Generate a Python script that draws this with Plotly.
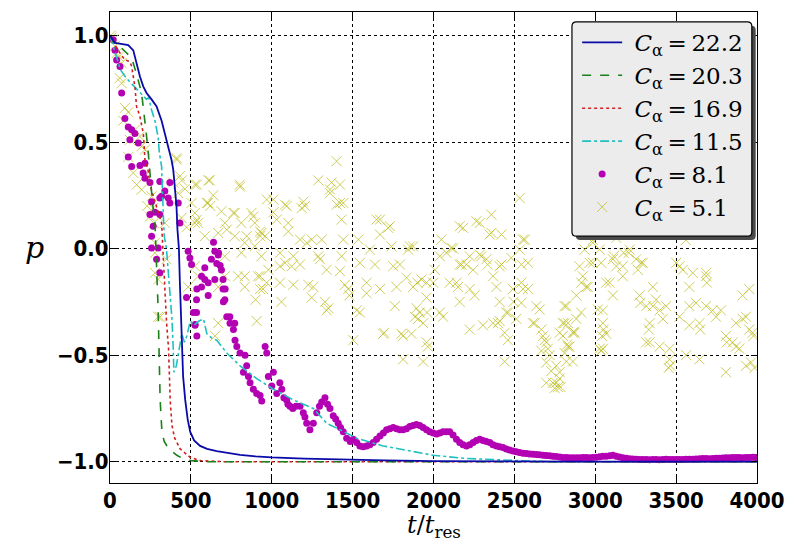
import plotly.graph_objects as go

# ---------------- data ----------------
t_222 = [0, 15, 30, 50, 80, 113, 144, 164, 185, 206, 226, 257, 288, 319, 339, 360, 380, 391, 401, 411, 417, 426, 432, 438,
         444, 452, 465, 480, 496, 520, 557, 600, 660, 730, 804, 900, 1000, 1200, 1400, 1700, 2000, 2500, 3000, 4000]
p_222 = [1.0, 0.98, 0.965, 0.963, 0.96, 0.955, 0.93, 0.87, 0.807, 0.76, 0.73, 0.70, 0.667, 0.60, 0.54, 0.48, 0.417, 0.37,
         0.30, 0.20, 0.09, 0.0, -0.16, -0.32, -0.47, -0.60, -0.71, -0.80, -0.86, -0.90, -0.926, -0.94, -0.95, -0.96, -0.968,
         -0.975, -0.98, -0.986, -0.99, -0.994, -0.997, -0.999, -1.0, -1.0]

t_203 = [0, 20, 40, 72, 100, 134, 160, 185, 200, 216, 230, 240, 250, 262, 278, 285, 292, 297, 303, 310, 321, 335, 352, 380,
         413, 450, 500, 600, 1000, 4000]
p_203 = [1.0, 0.97, 0.955, 0.94, 0.92, 0.893, 0.83, 0.76, 0.70, 0.60, 0.50, 0.42, 0.33, 0.22, 0.12, 0.0, -0.13, -0.27, -0.47,
         -0.71, -0.86, -0.905, -0.926, -0.95, -0.97, -0.985, -0.995, -1.0, -1.0, -1.0]

t_169 = [0, 20, 50, 92, 123, 134, 154, 164, 185, 206, 216, 235, 247, 270, 295, 319, 329, 339, 350, 362, 372, 383, 400, 434,
         496, 560, 700, 1000, 4000]
p_169 = [1.0, 0.97, 0.93, 0.885, 0.877, 0.854, 0.76, 0.667, 0.62, 0.54, 0.417, 0.37, 0.30, 0.24, 0.18, 0.12, -0.036, -0.19,
         -0.35, -0.47, -0.71, -0.83, -0.89, -0.94, -0.98, -0.995, -1.0, -1.0, -1.0]

t_115 = [0, 20, 64, 100, 150, 200, 226, 240, 257, 278, 298, 305, 319, 325, 329, 335, 349, 360, 370, 383, 390, 395, 410, 430,
         444, 460, 475, 496, 520, 550, 578, 599, 630, 660, 722, 804, 907, 1010, 1133, 1257, 1340, 1422, 1524, 1689, 1895,
         1998, 2200, 2500, 2700, 4000]
p_115 = [1.0, 0.95, 0.84, 0.80, 0.76, 0.72, 0.70, 0.71, 0.65, 0.60, 0.52, 0.45, 0.385, 0.25, 0.15, 0.06, 0.0, -0.1, -0.22,
         -0.33, -0.45, -0.58, -0.55, -0.45, -0.40, -0.44, -0.41, -0.34, -0.36, -0.34, -0.33, -0.40, -0.42, -0.43, -0.49,
         -0.55, -0.61, -0.66, -0.71, -0.75, -0.82, -0.85, -0.89, -0.926, -0.957, -0.97, -0.985, -0.995, -1.0, -1.0]

# C_alpha = 8.1 : early scattered points (10 per row)
t_81a = [20, 31, 41, 62, 72, 92, 113, 134, 154, 123,
         175, 113, 134, 185, 216, 205, 216, 247, 308, 339,
         370, 319, 308, 360, 370, 422, 257, 247, 278, 308,
         432, 267, 257, 257, 298, 483, 648, 669, 627, 494,
         288, 504, 586, 689, 566, 586, 607, 648, 699, 308,
         566, 607, 699, 710, 473, 535, 535, 525, 741, 771,
         537, 516, 526, 537, 712, 701, 640, 671, 681, 660]
p_81a = [0.98, 0.93, 0.885, 0.854, 0.73, 0.61, 0.57, 0.557, 0.54, 0.51,
         0.495, 0.43, 0.385, 0.39, 0.40, 0.355, 0.33, 0.31, 0.315, 0.27,
         0.31, 0.245, 0.237, 0.237, 0.214, 0.214, 0.22, 0.16, 0.17, 0.16,
         0.12, 0.105, 0.058, 0.003, 0.003, -0.013, -0.013, -0.03, -0.05, -0.044,
         -0.05, -0.075, -0.09, -0.1, -0.13, -0.145, -0.16, -0.145, -0.145, -0.114,
         -0.18, -0.22, -0.19, -0.24, -0.23, -0.24, -0.30, -0.356, -0.32, -0.35,
         -0.19, -0.30, -0.36, -0.41, -0.19, -0.25, 0.03, -0.02, -0.08, -0.07]

# C_alpha = 8.1 : dense band (10 per row)
t_81b = [722, 742, 763, 773, 784, 804, 835, 845, 825, 856,
         866, 886, 907, 928, 938, 959, 969, 979, 1000, 1010,
         1031, 1050, 1062, 1075, 1092, 1113, 1130, 1150, 1175, 1195,
         1216, 1236, 1257, 1278, 1295, 1309, 1329, 1345, 1360, 1380,
         1395, 1411, 1425, 1442, 1463, 1485, 1504, 1525, 1545, 1565,
         1586, 1606, 1627, 1648, 1669, 1690, 1710, 1730, 1751, 1772,
         1792, 1812, 1833, 1853, 1874, 1894, 1915, 1936, 1957, 1977,
         1998, 2019, 2039, 2059, 2080, 2100, 2121, 2142, 2162, 2183,
         2204, 2224, 2245, 2265, 2286, 2306, 2327, 2348, 2368, 2389,
         2409, 2430, 2450, 2470, 2491, 2512, 2532, 2553, 2574, 2595,
         2615, 2636, 2656, 2677, 2697, 2718, 2738, 2759, 2780, 2800,
         2821, 2841, 2862, 2883, 2903, 2924, 2944, 2965, 2985, 3006,
         3027, 3047, 3068, 3089, 3109, 3130, 3150, 3171, 3191, 3212,
         3232, 3253, 3274, 3294, 3315, 3335, 3356, 3376, 3397, 3418,
         3438, 3459, 3479, 3500, 3520, 3541, 3561, 3582, 3603, 3623,
         3644, 3664, 3685, 3705, 3726, 3747, 3767, 3788, 3808, 3829,
         3849, 3870, 3890, 3911, 3932, 3952, 3973, 3993, 1100, 1205]
p_81b = [-0.32, -0.35, -0.38, -0.43, -0.46, -0.49, -0.50, -0.55, -0.58, -0.60,
         -0.63, -0.66, -0.68, -0.69, -0.715, -0.46, -0.49, -0.60, -0.645, -0.58,
         -0.68, -0.63, -0.66, -0.70, -0.71, -0.74, -0.75, -0.74, -0.74, -0.77,
         -0.82, -0.85, -0.82, -0.77, -0.74, -0.72, -0.70, -0.73, -0.75, -0.785,
         -0.80, -0.82, -0.84, -0.86, -0.89, -0.905, -0.895, -0.91, -0.926, -0.93,
         -0.926, -0.92, -0.91, -0.895, -0.88, -0.865, -0.85, -0.845, -0.84, -0.845,
         -0.85, -0.85, -0.845, -0.835, -0.83, -0.825, -0.83, -0.84, -0.85, -0.86,
         -0.865, -0.87, -0.865, -0.86, -0.86, -0.86, -0.875, -0.895, -0.91, -0.92,
         -0.926, -0.92, -0.91, -0.90, -0.895, -0.90, -0.905, -0.91, -0.92, -0.926,
         -0.93, -0.934, -0.94, -0.945, -0.95, -0.953, -0.957, -0.96, -0.962, -0.964,
         -0.965, -0.966, -0.967, -0.97, -0.971, -0.972, -0.975, -0.976, -0.978, -0.98,
         -0.98, -0.981, -0.982, -0.982, -0.981, -0.98, -0.98, -0.982, -0.98, -0.979,
         -0.977, -0.975, -0.974, -0.972, -0.97, -0.974, -0.978, -0.982, -0.984, -0.986,
         -0.987, -0.988, -0.99, -0.99, -0.99, -0.991, -0.99, -0.99, -0.991, -0.99,
         -0.989, -0.99, -0.99, -0.99, -0.99, -0.99, -0.989, -0.988, -0.988, -0.987,
         -0.986, -0.985, -0.985, -0.986, -0.985, -0.984, -0.984, -0.983, -0.982, -0.982,
         -0.98, -0.98, -0.98, -0.981, -0.98, -0.98, -0.979, -0.98, -0.73, -0.79]

# C_alpha = 5.1 : scattered crosses, by stretch of time (10 per row)
t_51a = [5, 10, 20, 30, 41, 55, 72, 72, 60, 92,
         113, 82, 154, 123, 185, 195, 216, 113, 144, 216,
         195, 257, 165, 230, 267, 247, 339, 271, 278, 349,
         278, 298, 298, 310, 278, 411, 413, 432, 444, 391,
         463, 422, 442, 473, 483]
p_51a = [1.0, 0.99, 0.98, 0.95, 0.917, 0.9, 0.87, 0.776, 0.8, 0.66,
         0.64, 0.60, 0.557, 0.51, 0.526, 0.48, 0.464, 0.43, 0.355, 0.34,
         0.276, 0.245, 0.30, 0.2, 0.19, 0.15, 0.12, 0.12, 0.027, -0.05,
         -0.114, -0.145, -0.32, -0.32, -0.02, 0.425, 0.417, 0.34, 0.32, 0.31,
         0.28, 0.26, 0.144, 0.10, -0.18]

t_51b = [504, 525, 525, 525, 537, 537, 545, 599, 607, 609,
         617, 620, 638, 689, 710, 722, 763, 771, 802, 804,
         812, 874, 886, 895, 936, 969, 586, 669, 771, 833,
         845, 895, 928, 812, 710, 936, 525, 545, 710, 792,
         833, 915, 833, 946, 669, 669, 650, 907, 900, 928,
         928, 928, 959, 979, 969]
p_51b = [0.214, 0.30, 0.167, 0.12, 0.30, 0.135, 0.12, 0.214, 0.214, 0.32,
         0.32, 0.20, 0.25, 0.175, 0.12, 0.089, 0.167, 0.167, 0.30, 0.29,
         0.12, 0.167, 0.15, 0.12, 0.073, 0.23, 0.058, 0.073, 0.058, 0.027,
         0.058, 0.011, 0.058, -0.02, -0.036, -0.036, -0.083, -0.13, -0.13, -0.13,
         -0.13, -0.13, -0.18, -0.19, -0.18, -0.35, -0.41, -0.34, -0.24, -0.13,
         -0.19, 0.08, 0.058, -0.1, -0.16]

t_51c = [1010, 1010, 1031, 1082, 1092, 1102, 1102, 1185, 1195, 1205,
         1288, 1360, 1370, 1360, 1401, 1422, 1401, 1442, 1422, 1432,
         1175, 1247, 1309, 1216, 1442, 1051, 1133, 1288, 1432, 1082,
         1051, 1123, 1175, 1298, 1422, 1339, 1051, 1133, 1226, 1257,
         1452, 1473, 1480, 1060, 1247, 1329, 1339, 1350]
p_51c = [0.23, 0.17, 0.136, 0.206, 0.2, 0.12, 0.08, 0.19, 0.22, 0.2,
         0.32, 0.277, 0.31, 0.26, 0.41, 0.30, 0.206, 0.214, 0.214, 0.136,
         0.042, 0.042, 0.042, 0.027, 0.042, -0.02, -0.036, -0.036, -0.036, -0.067,
         -0.083, -0.083, -0.075, -0.05, -0.106, -0.1, -0.16, -0.17, -0.17, -0.18,
         -0.17, -0.19, -0.22, -0.25, -0.23, -0.25, -0.29, -0.28]

t_51d = [1535, 1648, 1669, 1720, 1730, 1669, 1874, 1854, 1607, 1740,
         1843, 1545, 1638, 1751, 1792, 1586, 1669, 1771, 1833, 1874,
         1900, 1957, 1957, 1586, 1525, 1545, 1761, 1885, 1895, 1936,
         1689, 1802, 1864, 1957, 1504, 1695, 1812, 1812, 1936, 1905,
         1915, 1926, 1960, 1965]
p_51d = [0.042, 0.136, 0.136, 0.097, 0.105, 0.066, 0.01, 0.01, -0.005, 0.01,
         -0.005, -0.067, -0.075, -0.083, -0.075, -0.16, -0.19, -0.18, -0.137, -0.18,
         -0.16, -0.16, -0.23, -0.21, -0.29, -0.30, -0.27, -0.32, -0.28, -0.35,
         -0.40, -0.40, -0.40, -0.44, -0.43, -0.395, -0.41, -0.52, -0.53, -0.33,
         -0.30, -0.145, -0.30, -0.46]

t_51e = [2049, 2111, 2121, 2039, 2080, 2162, 2173, 2203, 2224, 2296,
         2286, 2327, 2335, 2245, 2368, 2409, 2420, 2481, 2008, 1998,
         2100, 2142, 2152, 2224, 2255, 2162, 2389, 2491, 2409, 2461,
         2495, 2059, 2039, 2224, 2306, 2368, 2399, 2409, 2450, 2460,
         2440, 2440, 2183, 2162, 2265, 2286, 2358, 2358, 2347, 2420]
p_51e = [0.042, 0.003, 0.0, -0.036, -0.02, -0.075, -0.075, -0.075, -0.036, -0.036,
         -0.028, -0.05, -0.075, -0.1, -0.13, -0.083, -0.075, -0.044, -0.1, -0.16,
         -0.16, -0.16, -0.18, -0.19, -0.22, -0.25, -0.18, -0.19, -0.25, -0.30,
         -0.25, -0.32, -0.30, -0.38, -0.36, -0.35, -0.35, -0.34, -0.30, -0.43,
         -0.395, -0.53, 0.097, 0.105, 0.128, 0.12, 0.159, 0.074, 0.066, 0.066]

t_51f = [2533, 2553, 2564, 2533, 2543, 2584, 2543, 2553, 2584, 2543,
         2512, 2636, 2656, 2615, 2625, 2667, 2677, 2697, 2687, 2718,
         2707, 2667, 2697, 2728, 2759, 2738, 2759, 2697, 2749, 2780,
         2785, 2769, 2780, 2780, 2810, 2841, 2831, 2826, 2800, 2800,
         2810, 2862, 2867, 2872, 2821, 2862, 2810, 2821, 2831, 2883,
         2913, 2883, 2913, 2903, 2923, 2954, 2944, 2965, 2985, 2934,
         2985, 2985]
p_51f = [0.237, 0.042, 0.042, -0.005, -0.075, -0.067, -0.16, -0.19, -0.19, -0.255,
         -0.33, -0.27, -0.286, -0.35, -0.35, -0.38, -0.41, -0.44, -0.43, -0.50,
         -0.47, -0.48, -0.535, -0.575, -0.55, -0.63, -0.63, -0.63, -0.655, -0.61,
         -0.65, -0.65, -0.58, -0.395, -0.49, -0.46, -0.46, -0.45, -0.41, -0.35,
         -0.35, -0.395, -0.39, -0.395, -0.53, -0.53, -0.27, -0.27, -0.35, -0.33,
         -0.30, -0.22, -0.16, -0.083, -0.13, -0.18, -0.18, -0.067, -0.067, -0.005,
         0.027, 0.04]

t_51g = [3027, 3037, 3068, 3016, 3047, 3047, 3052, 3068, 3042, 3037,
         3027, 3047, 3109, 3114, 3130, 3170, 3175, 3212, 3207, 3253,
         3263, 3284, 3294, 3170, 3089, 3109, 3274, 3279, 3315, 3336,
         3331, 3315, 3336, 3357, 3356, 3376, 3398, 3418, 3438, 3398,
         3459, 3459, 3464, 3454, 3500, 3521, 3541, 3603, 3685, 3582,
         3582, 3623, 3521, 3582, 3644, 3649, 3562, 3644, 3685, 3690,
         3685, 3726, 3747, 3777, 3808, 3813, 3808, 3849, 3870, 3870,
         3891, 3911, 3911, 3932, 3932, 3952, 3952, 3963, 3973, 3978,
         3985, 3130, 3560]
p_51g = [-0.005, -0.067, -0.16, -0.286, -0.29, -0.35, -0.38, -0.40, -0.41, -0.48,
         -0.47, -0.47, -0.05, -0.036, -0.083, -0.083, -0.02, -0.005, -0.02, -0.05,
         -0.1, -0.067, -0.067, -0.13, -0.16, -0.22, -0.22, -0.255, -0.27, -0.35,
         -0.38, -0.44, -0.44, -0.27, -0.18, -0.24, -0.29, -0.33, -0.27, -0.46,
         -0.47, -0.52, -0.55, -0.56, -0.067, -0.083, -0.1, -0.114, -0.114, -0.18,
         -0.27, -0.255, -0.32, -0.36, -0.35, -0.38, -0.50, -0.52, -0.13, -0.16,
         -0.27, -0.29, -0.32, -0.29, -0.41, -0.44, -0.58, -0.44, -0.35, -0.46,
         -0.47, -0.22, -0.33, -0.32, -0.55, -0.19, -0.38, -0.535, -0.395, -0.41,
         -0.56, 0.05, 0.04]

x_ticks = [0, 500, 1000, 1500, 2000, 2500, 3000, 3500, 4000]
y_ticks = [-1.0, -0.5, 0.0, 0.5, 1.0]
c_alpha = ["22.2", "20.3", "16.9", "11.5", "8.1", "5.1"]

pairs = [(t_222, p_222), (t_203, p_203), (t_169, p_169), (t_115, p_115), (t_81a, p_81a), (t_81b, p_81b),
         (t_51a, p_51a), (t_51b, p_51b), (t_51c, p_51c), (t_51d, p_51d), (t_51e, p_51e), (t_51f, p_51f),
         (t_51g, p_51g)]
for a, b in pairs:
    assert len(a) == len(b), (len(a), len(b))

t_81 = t_81a + t_81b
p_81 = p_81a + p_81b
t_51 = t_51a + t_51b + t_51c + t_51d + t_51e + t_51f + t_51g
p_51 = p_51a + p_51b + p_51c + p_51d + p_51e + p_51f + p_51g

labels = [f"\u00a0<i>C</i><sub>α</sub>\u2009=\u2009{c}" for c in c_alpha]

# ---------------- figure ----------------
fig = go.Figure()
yel = "rgba(185,185,20,0.7)"
fig.add_trace(go.Scatter(x=t_51, y=p_51, mode="markers", name=labels[5],
                         marker=dict(symbol="x-thin-open", size=10, color=yel, line=dict(width=1, color=yel))))
fig.add_trace(go.Scatter(x=t_81, y=p_81, mode="markers", name=labels[4],
                         marker=dict(symbol="circle", size=7, color="#b300b3", line=dict(width=0))))
fig.add_trace(go.Scatter(x=t_115, y=p_115, mode="lines", name=labels[3],
                         line=dict(color="#20c0c0", width=1.6, dash="dashdot")))
fig.add_trace(go.Scatter(x=t_169, y=p_169, mode="lines", name=labels[2],
                         line=dict(color="#d02020", width=1.6, dash="dot")))
fig.add_trace(go.Scatter(x=t_203, y=p_203, mode="lines", name=labels[1],
                         line=dict(color="#1a801a", width=1.6, dash="dash")))
fig.add_trace(go.Scatter(x=t_222, y=p_222, mode="lines", name=labels[0],
                         line=dict(color="#0a0aa8", width=1.8)))

# legend box (rounded, with shadow)
def rrect(x0, y0, x1, y1, rx, ry):
    return (f"M {x0+rx},{y1} L {x1-rx},{y1} Q {x1},{y1} {x1},{y1-ry} L {x1},{y0+ry} Q {x1},{y0} {x1-rx},{y0} "
            f"L {x0+rx},{y0} Q {x0},{y0} {x0},{y0+ry} L {x0},{y1-ry} Q {x0},{y1} {x0+rx},{y1} Z")

lx0, lx1, ly0, ly1 = 0.714, 0.992, 0.524, 0.979
rx, ry = 0.007, 0.009
dx, dy = 0.006, 0.008
fig.add_shape(type="path", xref="paper", yref="paper", layer="above",
              path=rrect(lx0 + dx, ly0 - dy, lx1 + dx, ly1 - dy, rx, ry),
              fillcolor="#4a4a4a", line=dict(width=0))
fig.add_shape(type="path", xref="paper", yref="paper", layer="above",
              path=rrect(lx0, ly0, lx1, ly1, rx, ry),
              fillcolor="#ececec", line=dict(color="black", width=1.2))

tick_font = dict(family="DejaVu Sans Condensed, DejaVu Sans", size=22, color="black", weight="bold")
axis_common = dict(showline=True, linecolor="black", linewidth=1, mirror="ticks", ticks="inside", ticklen=6,
                   tickcolor="black", showgrid=True, gridcolor="black", griddash="dot", gridwidth=1, zeroline=False,
                   tickfont=tick_font, automargin=False)

# the page body has an 8 px margin, so the figure is drawn 16 px smaller and offset by 8 px
fig.update_layout(
    width=779, height=535,
    margin=dict(l=102, r=30, t=4, b=60),
    paper_bgcolor="white", plot_bgcolor="white",
    xaxis=dict(range=[0, 4000], tickvals=x_ticks, ticktext=[str(v) for v in x_ticks], ticklabelstandoff=-2,
               **axis_common),
    yaxis=dict(range=[-1.1, 1.11], tickvals=y_ticks, tickformat=".1f", ticklabelstandoff=-4, **axis_common),
    legend=dict(x=0.722, y=0.981, xanchor="left", yanchor="top", bgcolor="rgba(0,0,0,0)", borderwidth=0,
                traceorder="reversed", font=dict(family="DejaVu Serif", size=23, color="black"),
                itemwidth=40, tracegroupgap=0),
    showlegend=True,
    annotations=[
        dict(text="<i>p</i>", xref="paper", yref="paper", x=-0.116, y=0.5, xanchor="center", yanchor="middle",
             showarrow=False, font=dict(family="DejaVu Serif", size=30, color="black")),
        dict(text="<i>t</i>/<i>t</i><sub>res</sub>", xref="paper", yref="paper", x=0.5, y=-0.092,
             xanchor="center", yanchor="middle", showarrow=False,
             font=dict(family="DejaVu Serif", size=24, color="black")),
    ],
)

fig.write_html("out.html")
